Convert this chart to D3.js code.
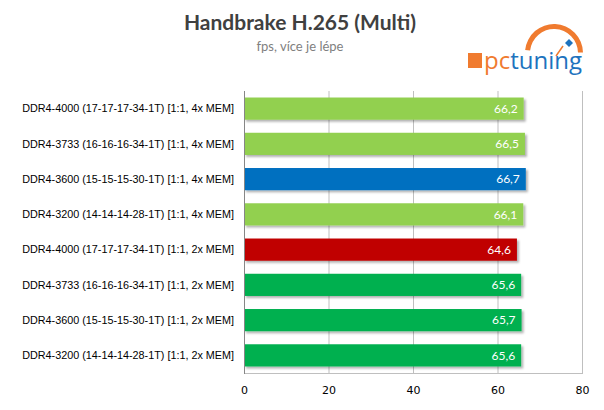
<!DOCTYPE html>
<html>
<head>
<meta charset="utf-8">
<script src="https://cdn.jsdelivr.net/npm/d3@7"></script>
<style>
  body { margin: 0; background: #fff; }
  svg { display: block; }
</style>
</head>
<body>
<div id="chart"></div>
<script>
// chart data
var labels = [
  "DDR4-4000 (17-17-17-34-1T) [1:1, 4x MEM]",
  "DDR4-3733 (16-16-16-34-1T) [1:1, 4x MEM]",
  "DDR4-3600 (15-15-15-30-1T) [1:1, 4x MEM]",
  "DDR4-3200 (14-14-14-28-1T) [1:1, 4x MEM]",
  "DDR4-4000 (17-17-17-34-1T) [1:1, 2x MEM]",
  "DDR4-3733 (16-16-16-34-1T) [1:1, 2x MEM]",
  "DDR4-3600 (15-15-15-30-1T) [1:1, 2x MEM]",
  "DDR4-3200 (14-14-14-28-1T) [1:1, 2x MEM]"
];
var values = [66.2, 66.5, 66.7, 66.1, 64.6, 65.6, 65.7, 65.6];
var barColors = ["#92d050", "#92d050", "#0070c0", "#92d050", "#c00000", "#00b050", "#00b050", "#00b050"];
var xTicks = [0, 20, 40, 60, 80];

var width = 604, height = 410;
var margin = {top: 91, right: 22, bottom: 37, left: 244};

var svg = d3.select("#chart").append("svg")
  .attr("width", width).attr("height", height);

var defs = svg.append("defs");
var shadow = defs.append("filter").attr("id", "shadow")
  .attr("x", "-5%").attr("y", "-20%").attr("width", "115%").attr("height", "160%");
shadow.append("feDropShadow")
  .attr("dx", 2).attr("dy", 2).attr("stdDeviation", 1.2)
  .attr("flood-color", "#000").attr("flood-opacity", 0.3);

var x = d3.scaleLinear().domain([0, 80]).range([margin.left, width - margin.right]);
var y = d3.scaleBand().domain(labels).range([margin.top, height - margin.bottom]).paddingInner(0.37).paddingOuter(0.185);

// title
svg.append("text")
  .attr("x", 300).attr("y", 30)
  .attr("text-anchor", "middle")
  .style("font-family", "Lato, 'Open Sans', sans-serif")
  .style("font-weight", "bold")
  .style("font-size", "21px")
  .style("fill", "#404040")
  .text("Handbrake H.265 (Multi)");

svg.append("text")
  .attr("x", 300).attr("y", 51)
  .attr("text-anchor", "middle")
  .style("font-family", "Lato, 'Open Sans', sans-serif")
  .style("font-size", "13px")
  .style("fill", "#7f7f7f")
  .text("fps, více je lépe");

// grid
var grid = svg.append("g");
grid.selectAll("line.grid").data(xTicks.slice(1)).enter().append("line")
  .attr("class", "grid")
  .attr("x1", function(d) { return x(d) + 0.5; })
  .attr("x2", function(d) { return x(d) + 0.5; })
  .attr("y1", margin.top).attr("y2", height - margin.bottom)
  .attr("stroke", "#bfbfbf").attr("stroke-width", 1);
grid.append("line")
  .attr("x1", x(0)).attr("x2", x(80) + 1)
  .attr("y1", height - margin.bottom + 0.5).attr("y2", height - margin.bottom + 0.5)
  .attr("stroke", "#bfbfbf");

// bars
var rows = svg.append("g").selectAll("g.row").data(values).enter().append("g").attr("class", "row");

rows.append("rect")
  .attr("x", x(0))
  .attr("y", function(d, i) { return y(labels[i]); })
  .attr("width", function(d) { return x(d) - x(0); })
  .attr("height", y.bandwidth())
  .attr("fill", function(d, i) { return barColors[i]; })
  .attr("filter", "url(#shadow)");

rows.append("text")
  .attr("x", function(d) { return x(d) - 6; })
  .attr("y", function(d, i) { return y(labels[i]) + y.bandwidth() / 2; })
  .attr("dy", "0.36em")
  .attr("text-anchor", "end")
  .style("font-family", "Lato, 'Open Sans', sans-serif")
  .style("font-size", "12px")
  .style("fill", "#fff")
  .text(function(d) { return d.toFixed(1).replace(".", ","); });

// category labels
rows.append("text")
  .attr("x", margin.left - 10)
  .attr("y", function(d, i) { return y(labels[i]) + y.bandwidth() / 2; })
  .attr("dy", "0.35em")
  .attr("text-anchor", "end")
  .style("font-family", "'Liberation Sans', Arial, sans-serif")
  .style("font-size", "10.8px")
  .style("fill", "#000")
  .text(function(d, i) { return labels[i]; });

// left axis line
svg.append("line")
  .attr("x1", x(0) + 0.5).attr("x2", x(0) + 0.5)
  .attr("y1", margin.top).attr("y2", height - margin.bottom + 1)
  .attr("stroke", "#868686");

// x axis
var xAxis = d3.axisBottom(x).tickValues(xTicks).tickSize(0).tickPadding(13);
var ax = svg.append("g")
  .attr("transform", "translate(0," + (height - margin.bottom) + ")")
  .call(xAxis);
ax.select(".domain").remove();
ax.selectAll("text")
  .style("font-family", "'DejaVu Sans', sans-serif")
  .style("font-size", "11px")
  .style("fill", "#000");

// logo
var logo = svg.append("g");
var arc = d3.arc().innerRadius(24).outerRadius(29)
  .startAngle(-Math.PI / 2 + 0.1).endAngle(Math.PI / 2 - 0.02);
logo.append("path").attr("d", arc()).attr("transform", "translate(554,53)").attr("fill", "#f07b2f");
logo.append("path").attr("d", "M569,39 L573,43 L569,47 L565,43 Z").attr("fill", "#1e73be");
logo.append("line").attr("x1", 556).attr("y1", 56).attr("x2", 563).attr("y2", 46)
  .attr("stroke", "#f07b2f").attr("stroke-width", 1.5);
logo.append("rect").attr("x", 468).attr("y", 53).attr("width", 14).attr("height", 15).attr("fill", "#f07b2f");
var logoText = logo.append("text")
  .attr("x", 484).attr("y", 69)
  .style("font-family", "'Open Sans', sans-serif")
  .style("font-size", "24px");
logoText.append("tspan").attr("fill", "#f07b2f").text("pc");
logoText.append("tspan").attr("fill", "#1e73be").text("tuning");
</script>
</body>
</html>
